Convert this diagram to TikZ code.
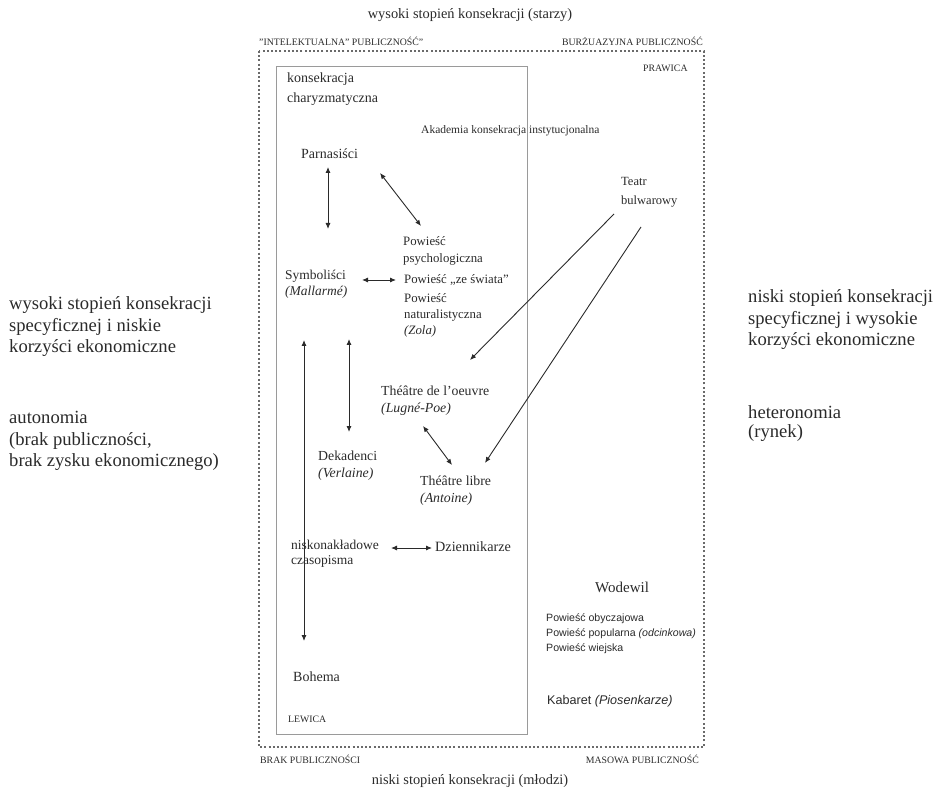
\documentclass[tikz,border=0pt]{standalone}
\usepackage{fontspec}
\setmainfont{Liberation Serif}
\newfontfamily\sansf{Liberation Sans}
\usetikzlibrary{arrows.meta}
\newcommand{\fsz}[2]{\fontsize{#1}{#2}\selectfont}
\definecolor{txt}{HTML}{2A2A2A}
\definecolor{boxgray}{HTML}{9A9A9A}
\definecolor{dotgray}{HTML}{6A6A6A}
\tikzset{
  lbl/.style={inner sep=0pt, anchor=west, align=left, text=txt},
  clbl/.style={inner sep=0pt, anchor=center, align=center, text=txt},
  capslbl/.style={inner sep=0pt, text=txt, font=\fsz{9.8}{11}},
  dblarrow/.style={draw=txt, line width=0.9pt, {Latex[length=6pt,width=5pt]}-{Latex[length=6pt,width=5pt]}},
  onearrow/.style={draw=txt, line width=0.9pt, -{Latex[length=6pt,width=5pt]}},
  outerbox/.style={draw=dotgray, line width=1.2pt, dash pattern=on 2pt off 2.2pt},
  innerbox/.style={draw=boxgray, line width=0.9pt}
}
\begin{document}
\begin{tikzpicture}[x=1pt,y=-1pt]
\useasboundingbox (0,0) rectangle (937,791);
% frames
\draw[outerbox] (259,51) rectangle (704,747);
\draw[innerbox] (276,66) rectangle (527,734);

% titles
\node[clbl, font=\fsz{14.4}{17}] (top) at (470,15) {wysoki stopień konsekracji (starzy)};
\node[clbl, font=\fsz{14.4}{17}] (bottom) at (470,781) {niski stopień konsekracji (młodzi)};

% corner labels
\node[capslbl, anchor=west] (intel) at (259,41) {"INTELEKTUALNA" PUBLICZNOŚĆ"};
\node[capslbl, anchor=east] (burz) at (703,41) {BURŻUAZYJNA PUBLICZNOŚĆ};
\node[capslbl, anchor=west] (prawica) at (643,68) {PRAWICA};
\node[capslbl, anchor=west] (lewica) at (288,719) {LEWICA};
\node[capslbl, anchor=west] (brak) at (260,759) {BRAK PUBLICZNOŚCI};
\node[capslbl, anchor=east] (masowa) at (699,759) {MASOWA PUBLICZNOŚĆ};

% side texts
\node[lbl, font=\fsz{18.6}{21.5}] (lefta) at (9,327) {wysoki stopień konsekracji\\specyficznej i niskie\\korzyści ekonomiczne};
\node[lbl, font=\fsz{18.6}{21.2}] (leftb) at (9,441) {autonomia\\(brak publiczności,\\brak zysku ekonomicznego)};
\node[lbl, font=\fsz{18.6}{21.5}] (righta) at (748,320) {niski stopień konsekracji\\specyficznej i wysokie\\korzyści ekonomiczne};
\node[lbl, font=\fsz{18.6}{19}] (rightb) at (748,424) {heteronomia\\(rynek)};

% inner labels
\node[lbl, font=\fsz{14}{20}] (kons) at (287,89) {konsekracja\\charyzmatyczna};
\node[lbl, font=\fsz{11.5}{14}] (akad) at (421,131) {Akademia konsekracja instytucjonalna};
\node[lbl, font=\fsz{14}{17}] (parn) at (301,154) {Parnasiści};
\node[lbl, font=\fsz{12.8}{17}] (psych) at (403,251) {Powieść\\psychologiczna};
\node[lbl, font=\fsz{13.5}{16.5}] (symb) at (285,284) {Symboliści\\\textit{(Mallarmé)}};
\node[lbl, font=\fsz{12.8}{16}] (swiat) at (404,280) {Powieść „ze świata”};
\node[lbl, font=\fsz{12.8}{16}] (natur) at (404,315) {Powieść\\naturalistyczna\\\textit{(Zola)}};
\node[lbl, font=\fsz{12.5}{19}] (teatr) at (621,192) {Teatr\\bulwarowy};
\node[lbl, font=\fsz{13.8}{17}] (oeuvre) at (381,401) {Théâtre de l'oeuvre\\\textit{(Lugné-Poe)}};
\node[lbl, font=\fsz{13.8}{17}] (dekad) at (318,466) {Dekadenci\\\textit{(Verlaine)}};
\node[lbl, font=\fsz{13.8}{17}] (libre) at (420,491) {Théâtre libre\\\textit{(Antoine)}};
\node[lbl, font=\fsz{13.5}{15}] (czas) at (291,554) {niskonakładowe\\czasopisma};
\node[lbl, font=\fsz{14.2}{17}] (dzien) at (435,547) {Dziennikarze};
\node[lbl, font=\fsz{14}{17}] (bohema) at (293,677) {Bohema};
\node[lbl, font=\fsz{15}{17}] (wodewil) at (595,587) {Wodewil};
\node[lbl, font=\sansf\fsz{10.6}{15}] (powobycz) at (546,634) {Powieść obyczajowa\\Powieść popularna \textit{(odcinkowa)}\\Powieść wiejska};
\node[lbl, font=\sansf\fsz{12.6}{15}] (kabaret) at (547,701) {Kabaret \textit{(Piosenkarze)}};

% connector end points
\coordinate (parnS) at (328,167);
\coordinate (symbN) at (328,229);
\coordinate (parnE) at (380,173);
\coordinate (psychN) at (421,226);
\coordinate (symbE) at (362,280);
\coordinate (swiatW) at (396,280);
\coordinate (symbS) at (304,340);
\coordinate (bohemaN) at (304,641);
\coordinate (symbS2) at (349,339);
\coordinate (dekadN) at (349,432);
\coordinate (teatrA) at (614,214);
\coordinate (oeuvreNE) at (470,360);
\coordinate (teatrB) at (641,227);
\coordinate (libreNE) at (485,463);
\coordinate (oeuvreS) at (423,426);
\coordinate (libreN) at (452,465);
\coordinate (czasE) at (391,548);
\coordinate (dzienW) at (432,548);

% connectors
\draw[dblarrow] (parnS) -- (symbN);
\draw[dblarrow] (parnE) -- (psychN);
\draw[dblarrow] (symbE) -- (swiatW);
\draw[dblarrow] (symbS) -- (bohemaN);
\draw[dblarrow] (symbS2) -- (dekadN);
\draw[onearrow] (teatrA) -- (oeuvreNE);
\draw[onearrow] (teatrB) -- (libreNE);
\draw[dblarrow] (oeuvreS) -- (libreN);
\draw[dblarrow] (czasE) -- (dzienW);
\end{tikzpicture}
\end{document}
